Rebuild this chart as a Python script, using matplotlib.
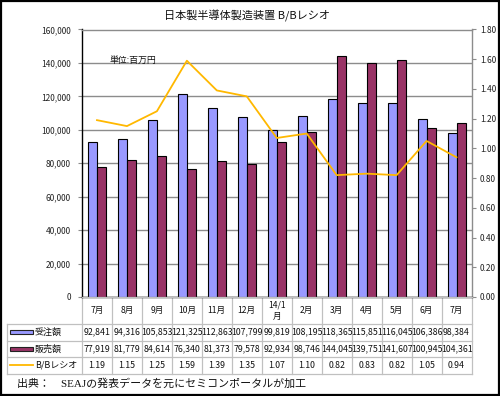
import matplotlib
matplotlib.use("Agg")
import matplotlib.pyplot as plt
from matplotlib.patches import Rectangle
from matplotlib.lines import Line2D
import matplotlib.transforms as mtrans

plt.rcParams['font.family'] = ['Noto Sans CJK JP', 'DejaVu Sans']

# ---- data ----
categories = ["7月", "8月", "9月", "10月", "11月", "12月", "14/1\n月",
              "2月", "3月", "4月", "5月", "6月", "7月"]
orders = [92841, 94316, 105853, 121325, 112863, 107799, 99819,
          108195, 118365, 115851, 116045, 106386, 98384]
sales = [77919, 81779, 84614, 76340, 81373, 79578, 92934,
         98746, 144045, 139751, 141607, 100945, 104361]
bb_ratio = [1.19, 1.15, 1.25, 1.59, 1.39, 1.35, 1.07,
            1.10, 0.82, 0.83, 0.82, 1.05, 0.94]
series_names = ["受注額", "販売額", "B/Bレシオ"]
title = "日本製半導体製造装置 B/Bレシオ"
unit_note = "単位:百万円"
source_note = "出典：　SEAJの発表データを元にセミコンポータルが加工"
left_ticks = list(range(0, 160001, 20000))
right_ticks = [0.0, 0.2, 0.4, 0.6, 0.8, 1.0, 1.2, 1.4, 1.6, 1.8]

# ---- styles ----
C_ORD = "#9999FF"
C_SAL = "#993366"
C_LINE = "#FFB800"
C_GRID = "#8C8C8C"
C_TAB = "#C0C0C0"

W, H = 500, 396
fig = plt.figure(figsize=(W / 100, H / 100), dpi=100)

def fx(px):
    return px / W

def fy(py):
    return 1 - py / H

ax_l, ax_r, ax_t, ax_b = 82, 471.5, 29.5, 297
ax = fig.add_axes([fx(ax_l), fy(ax_b), fx(ax_r - ax_l), (ax_b - ax_t) / H])
n = len(categories)
xs = list(range(n))
bw = 0.3
ax.bar([x - bw / 2 for x in xs], orders, width=bw, color=C_ORD,
       edgecolor="black", linewidth=0.8, zorder=3)
ax.bar([x + bw / 2 for x in xs], sales, width=bw, color=C_SAL,
       edgecolor="black", linewidth=0.8, zorder=3)
ax.set_xlim(-0.5, n - 0.5)
ax.set_ylim(0, 160000)
ax.set_yticks(left_ticks)
ax.set_yticklabels([f"{v:,}" for v in left_ticks])
ax.set_xticks([])
ax.yaxis.grid(True, color=C_GRID, linewidth=1.0, zorder=0)
ax.set_axisbelow(True)
ax.tick_params(axis='y', labelsize=6.0, length=3, width=0.8, color=C_GRID,
               labelcolor="#222222", pad=5)
for s in ["top", "right"]:
    ax.spines[s].set_color(C_GRID)
ax.spines["left"].set_color("black")
ax.spines["bottom"].set_color("black")
for s in ax.spines.values():
    s.set_linewidth(1.0)

ax2 = ax.twinx()
ax2.plot(xs, bb_ratio, color=C_LINE, linewidth=1.3, zorder=4)
ax2.set_ylim(0, 1.8)
ax2.set_yticks(right_ticks)
ax2.set_yticklabels([f"{v:.2f}" for v in right_ticks])
ax2.tick_params(axis='y', labelsize=6.0, length=3, width=0.8, color=C_GRID,
                labelcolor="#222222", pad=3)
for s in ax2.spines.values():
    s.set_visible(False)

fig.text(fx(110), fy(60), unit_note, fontsize=6.4, ha="left", va="center", color="#111111")
fig.text(0.494, fy(16), title, fontsize=8.0, ha="center", va="center", color="#111111")

# ---- table ----
bt = mtrans.blended_transform_factory(ax.transData, fig.transFigure)
tab_left = 7
rows_y = [297, 324, 340.5, 357, 373.5]
for i, yv in enumerate(rows_y):
    x0 = fx(ax_l) if i == 0 else fx(tab_left)
    fig.add_artist(Line2D([x0, fx(ax_r)], [fy(yv), fy(yv)], color=C_TAB, linewidth=0.9))
for k in range(n + 1):
    ax.plot([k - 0.5, k - 0.5], [fy(rows_y[0]), fy(rows_y[-1])], transform=bt,
            color=C_TAB, linewidth=0.9, clip_on=False)
fig.add_artist(Line2D([fx(tab_left), fx(tab_left)], [fy(rows_y[1]), fy(rows_y[-1])],
                      color=C_TAB, linewidth=0.9))

for k, c in enumerate(categories):
    ax.text(k, fy((rows_y[0] + rows_y[1]) / 2), c, transform=bt, ha="center",
            va="center", fontsize=6.2, linespacing=1.3, clip_on=False, color="#111111")

row_vals = [[f"{v:,}" for v in orders], [f"{v:,}" for v in sales],
            [f"{v:.2f}" for v in bb_ratio]]
for r in range(3):
    yc = fy((rows_y[r + 1] + rows_y[r + 2]) / 2)
    for k, s in enumerate(row_vals[r]):
        ax.text(k, yc, s, transform=bt, ha="center", va="center",
                fontsize=6.3, clip_on=False, color="#111111")

for r, name in enumerate(series_names):
    yc = (rows_y[r + 1] + rows_y[r + 2]) / 2
    if r < 2:
        col = C_ORD if r == 0 else C_SAL
        fig.add_artist(Rectangle((fx(10), fy(yc + 2)), fx(23), 4 / H,
                                 facecolor=col, edgecolor="#222222", linewidth=0.8))
    else:
        fig.add_artist(Line2D([fx(10), fx(33)], [fy(yc), fy(yc)], color=C_LINE, linewidth=1.3))
    fig.text(fx(35), fy(yc), name, fontsize=6.5, ha="left", va="center", color="#111111")

fig.text(fx(17), fy(384), source_note, fontsize=7.9, ha="left", va="center",
         family=["Liberation Serif", "Noto Sans CJK JP"], color="#111111")

fig.add_artist(Rectangle((0.002, 0.0025), 0.995, 0.994, transform=fig.transFigure,
                         fill=False, edgecolor="black", linewidth=1.6))

fig.savefig("out.png", dpi=100)
